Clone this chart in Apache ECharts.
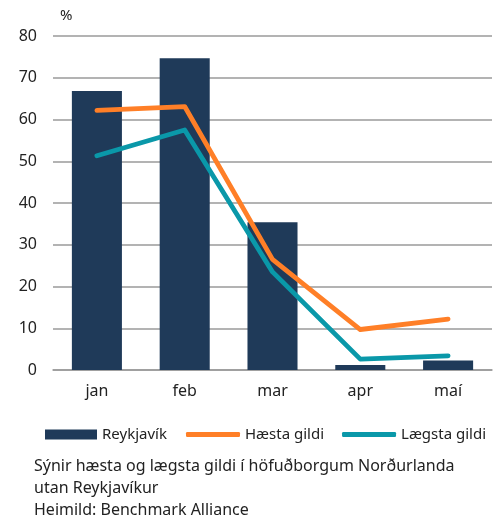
<!DOCTYPE html>
<html><head><meta charset="utf-8">
<script src="https://cdn.jsdelivr.net/npm/echarts@6/dist/echarts.min.js"></script>
<style>html,body{margin:0;padding:0;background:#fff}#c{width:504px;height:521px}</style>
</head><body><div id="c"></div>
<script>
const categories = ['jan', 'feb', 'mar', 'apr', 'maí'];
const reykjavik = [66.8, 74.7, 35.4, 1.2, 2.3];
const haesta = [62.2, 63.1, 26.5, 9.7, 12.2];
const laegsta = [51.3, 57.5, 23.5, 2.6, 3.4];
const yTicks = [0, 10, 20, 30, 40, 50, 60, 70, 80];
const FONT = '"Noto Sans", sans-serif';
const C_BAR = '#1F3A59', C_HI = '#FF7F27', C_LO = '#0A98A9';

const chart = echarts.init(document.getElementById('c'), null, {renderer: 'canvas'});
chart.setOption({
  animation: false,
  textStyle: {fontFamily: FONT},
  grid: {left: 53, right: 12, top: 36, bottom: 151, containLabel: false},
  xAxis: {
    type: 'category', data: categories,
    axisLine: {show: true, lineStyle: {color: '#9a9a9a', width: 1.5}},
    axisTick: {show: false},
    axisLabel: {color: '#222', fontSize: 16, fontFamily: FONT, margin: 13}
  },
  yAxis: {
    type: 'value', min: yTicks[0], max: yTicks[yTicks.length - 1], interval: 10,
    name: '%', nameLocation: 'end', nameGap: 13,
    nameTextStyle: {color: '#222', fontSize: 15, align: 'left', padding: [0, 0, 0, 7]},
    axisLine: {show: false}, axisTick: {show: false},
    splitLine: {lineStyle: {color: '#9a9a9a', width: 1.5}},
    axisLabel: {color: '#222', fontSize: 16, fontFamily: FONT, margin: 16}
  },
  legend: [
    {
      left: 45, top: 427, padding: 0, itemWidth: 52, itemHeight: 10, itemGap: 10,
      textStyle: {color: '#222', fontSize: 15, fontFamily: FONT},
      data: [{name: 'Reykjavík', icon: 'rect'}]
    },
    {
      left: 186, top: 427, padding: 0, itemWidth: 54, itemHeight: 5, itemGap: 18,
      textStyle: {color: '#222', fontSize: 15, fontFamily: FONT},
      data: [{name: 'Hæsta gildi', icon: 'roundRect'}, {name: 'Lægsta gildi', icon: 'roundRect'}]
    }
  ],
  series: [
    {name: 'Reykjavík', type: 'bar', data: reykjavik, barWidth: '57%',
     itemStyle: {color: C_BAR}},
    {name: 'Hæsta gildi', type: 'line', data: haesta, symbol: 'none',
     lineStyle: {color: C_HI, width: 4.8, cap: 'round', join: 'round'}, itemStyle: {color: C_HI}},
    {name: 'Lægsta gildi', type: 'line', data: laegsta, symbol: 'none',
     lineStyle: {color: C_LO, width: 4.8, cap: 'round', join: 'round'}, itemStyle: {color: C_LO}}
  ],
  graphic: [
    {type: 'text', left: 34, top: 458, style: {text: 'Sýnir hæsta og lægsta gildi í höfuðborgum Norðurlanda', fill: '#222', font: '16px ' + FONT}},
    {type: 'text', left: 34, top: 480, style: {text: 'utan Reykjavíkur', fill: '#222', font: '16px ' + FONT}},
    {type: 'text', left: 34, top: 502, style: {text: 'Heimild: Benchmark Alliance', fill: '#222', font: '16px ' + FONT}}
  ]
});
</script></body></html>
